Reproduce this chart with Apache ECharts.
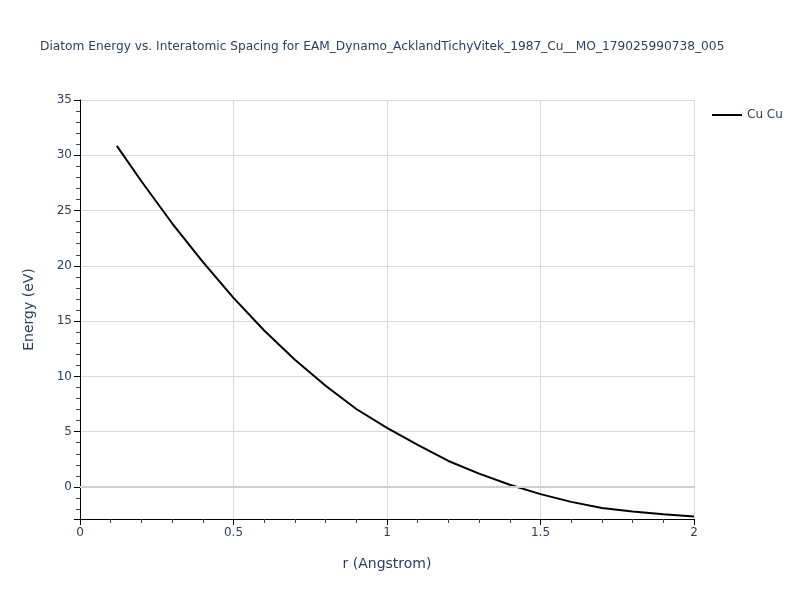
<!DOCTYPE html>
<html>
<head>
<meta charset="utf-8">
<script src="https://cdn.jsdelivr.net/npm/echarts@6/dist/echarts.min.js"></script>
<style>html,body{margin:0;padding:0;background:#fff}#c{width:800px;height:600px}</style>
</head>
<body>
<div id="c"></div>
<script>
const seriesName = "Cu Cu";
const rValues = [0.12, 0.2, 0.3, 0.4, 0.5, 0.6, 0.7, 0.8, 0.9, 1.0, 1.1, 1.2, 1.3, 1.4, 1.5, 1.6, 1.7, 1.8, 1.9, 2.0];
const energyValues = [30.85, 27.65, 23.85, 20.35, 17.1, 14.15, 11.5, 9.15, 7.05, 5.35, 3.8, 2.35, 1.2, 0.2, -0.65, -1.35, -1.9, -2.22, -2.48, -2.68];
const titleText = "Diatom Energy vs. Interatomic Spacing for EAM_Dynamo_AcklandTichyVitek_1987_Cu__MO_179025990738_005";

const font = "'DejaVu Sans', Verdana, sans-serif";
const textColor = "#2a3f5f";
const chart = echarts.init(document.getElementById('c'), null, {renderer: 'canvas'});
chart.setOption({
  animation: false,
  backgroundColor: '#fff',
  title: {
    text: titleText, left: 35, top: 36,
    textStyle: {fontFamily: font, fontSize: 12.2, fontWeight: 'normal', color: textColor}
  },
  legend: {
    left: 707, top: 104, itemWidth: 30, itemHeight: 14, itemGap: 5,
    textStyle: {fontFamily: font, fontSize: 12, color: textColor},
    data: [{name: seriesName, icon: 'path://M0,6 L30,6 L30,8 L0,8 Z'}]
  },
  grid: {left: 80, right: 106, top: 100, bottom: 81, containLabel: false},
  xAxis: {
    type: 'value', min: 0, max: 2, interval: 0.5,
    name: 'r (Angstrom)', nameLocation: 'middle', nameGap: 38,
    nameTextStyle: {fontFamily: font, fontSize: 14, color: textColor},
    axisLine: {show: true, onZero: false, lineStyle: {color: '#000', width: 1}},
    axisTick: {show: true, inside: false, length: 6, lineStyle: {color: '#000'}},
    minorTick: {show: true, splitNumber: 5, length: 4, lineStyle: {color: '#444'}},
    axisLabel: {fontFamily: font, fontSize: 12, color: textColor, margin: 8},
    splitLine: {show: true, lineStyle: {color: '#d9d9d9', width: 1}}
  },
  yAxis: {
    type: 'value', min: -2.9, max: 35, splitNumber: 7,
    name: 'Energy (eV)', nameLocation: 'middle', nameGap: 44,
    nameTextStyle: {fontFamily: font, fontSize: 14, color: textColor},
    axisLine: {show: true, onZero: false, lineStyle: {color: '#000', width: 1}},
    axisTick: {show: true, inside: false, length: 6, lineStyle: {color: '#000'}},
    minorTick: {show: true, splitNumber: 5, length: 4, lineStyle: {color: '#444'}},
    axisLabel: {fontFamily: font, fontSize: 12, color: textColor, margin: 8,
      formatter: v => (Math.abs(v % 5) < 1e-9 ? String(v) : '')},
    splitLine: {show: true, lineStyle: {color: '#d9d9d9', width: 1}}
  },
  series: [{
    name: seriesName, type: 'line', symbol: 'none', smooth: false,
    data: rValues.map((r, i) => [r, energyValues[i]]),
    lineStyle: {color: '#000', width: 2},
    itemStyle: {color: '#000'},
    markLine: {
      silent: true, symbol: 'none', label: {show: false},
      lineStyle: {color: '#cfcfcf', width: 2, type: 'solid'},
      data: [{yAxis: 0}]
    },
    z: 3
  }]
});
</script>
</body>
</html>
